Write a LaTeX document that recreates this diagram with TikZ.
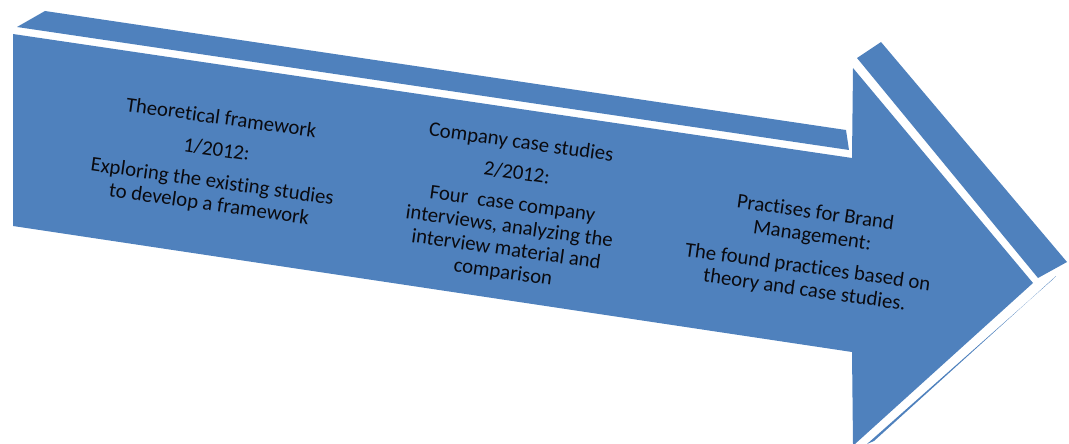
\documentclass[tikz,border=0pt]{standalone}
\usepackage{fontspec}
\setmainfont{Carlito}[RawFeature={-liga}]
\definecolor{arrowblue}{RGB}{79,129,189}
\definecolor{textdark}{RGB}{10,10,15}
\begin{document}
\begin{tikzpicture}[x=1pt,y=-1pt,
  face/.style={fill=arrowblue,draw=none},
  label/.style={align=center,rotate=-8,text=textdark,inner sep=0pt,
    font=\fontsize{20.8}{23}\selectfont}]
\useasboundingbox (0,0) rectangle (1069,444);
% top bevel of the shaft
\fill[face] (17,27) -- (45,11) -- (846,130) -- (849,150) -- cycle;
% bevel along the upper edge of the head
\fill[face] (857,58) -- (881,42) -- (1067,262) -- (1038,278) -- cycle;
% thin sliver along the lower edge of the head
\fill[face] (1056,276) -- (1051,281) -- (867,444) -- (874,441) -- cycle;
% front face of the arrow
\fill[face] (13,34) -- (852,158) -- (853,68) -- (1033,283) -- (855,444)
  -- (853,444) -- (852,352) -- (13,226) -- cycle;
% texts
\node[label] (t1) at (215,162) {Theoretical framework\\[9pt]1/2012:\\[9pt]Exploring the existing studies\\to develop a framework};
\node[label] (t2) at (512,208) {Company case studies\\[8pt]2/2012:\\[8pt]Four~~case company\\interviews, analyzing the\\interview material and\\comparison};
\node[label] (t3) at (810,252) {Practises for Brand\\Management:\\[9pt]The found practices based on\\theory and case studies.};
\end{tikzpicture}
\end{document}
